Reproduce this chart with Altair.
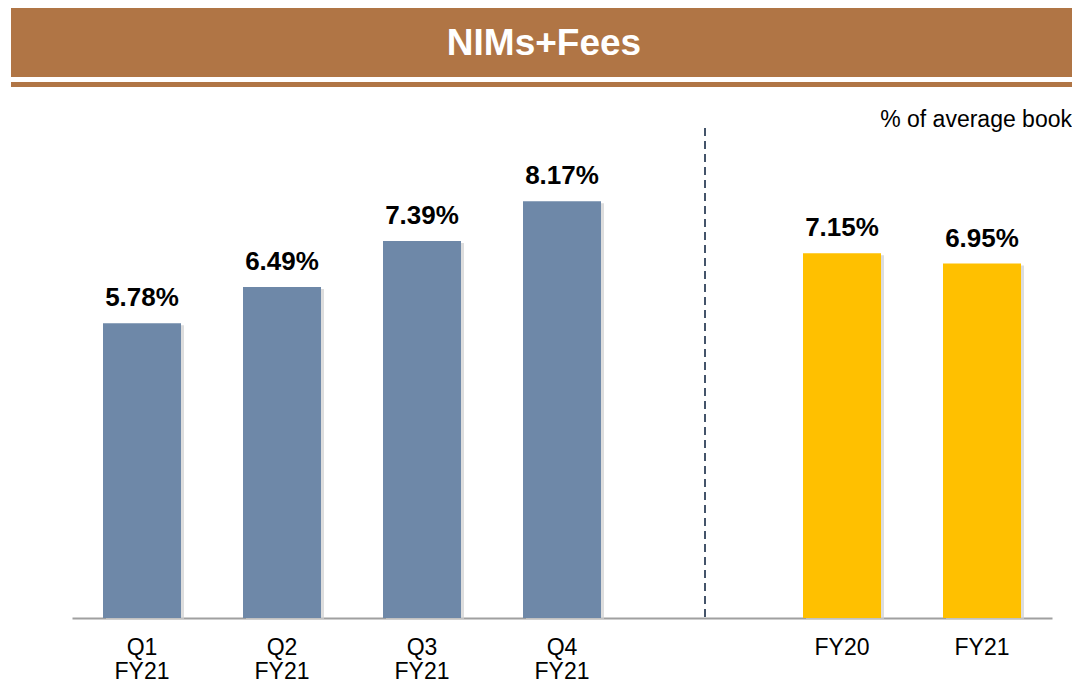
import altair as alt
import pandas as pd

categories = ["Q1 FY21", "Q2 FY21", "Q3 FY21", "Q4 FY21", "FY20", "FY21"]
values = [5.78, 6.49, 7.39, 8.17, 7.15, 6.95]
labels = ["5.78%", "6.49%", "7.39%", "8.17%", "7.15%", "6.95%"]
groups = ["quarter", "quarter", "quarter", "quarter", "year", "year"]
domain_order = ["Q1 FY21", "Q2 FY21", "Q3 FY21", "Q4 FY21", "gap", "FY20", "FY21"]

df = pd.DataFrame({"cat": categories, "value": values, "label": labels, "group": groups})

FONT = "Liberation Sans"
BROWN = "#B07545"

xenc = alt.X(
    "cat:N",
    scale=alt.Scale(domain=domain_order, paddingInner=0, paddingOuter=0),
    sort=domain_order,
    axis=alt.Axis(
        title=None,
        labelExpr="datum.label == 'gap' ? '' : split(datum.label, ' ')",
        labelAngle=0,
        labelFont=FONT,
        labelFontSize=23,
        labelColor="#000000",
        labelLineHeight=24,
        labelPadding=18,
        ticks=False,
        tickSize=0,
        domain=True,
        domainColor="#A0A0A0",
        domainWidth=2,
        grid=False,
        labelBaseline="top",
    ),
)
yenc = alt.Y("value:Q", scale=alt.Scale(domain=[0, 10]), axis=None)

base = alt.Chart(df)

shadow = base.mark_bar(size=78, xOffset=3, yOffset=2, color="#CFCFCF", opacity=0.7).encode(x=xenc, y=yenc)

bars = base.mark_bar(size=78).encode(
    x=xenc,
    y=yenc,
    color=alt.Color(
        "group:N",
        scale=alt.Scale(domain=["quarter", "year"], range=["#6E88A8", "#FFC000"]),
        legend=None,
    ),
)

vals = base.mark_text(
    font=FONT, fontSize=26, fontWeight="bold", color="#000000", baseline="alphabetic", dy=-17
).encode(x=xenc, y=yenc, text="label:N")

deco = pd.DataFrame({"k": [0]})
dbase = alt.Chart(deco)

banner = dbase.mark_rect(color=BROWN).encode(
    x=alt.value(-61), x2=alt.value(1010), y=alt.value(-102), y2=alt.value(-31)
)
bline = dbase.mark_rect(color=BROWN).encode(
    x=alt.value(-61), x2=alt.value(1010), y=alt.value(-26), y2=alt.value(-21)
)
title = dbase.mark_text(
    font=FONT, fontSize=37, fontWeight="bold", color="#FFFFFF", align="center", baseline="alphabetic"
).encode(x=alt.value(472), y=alt.value(-53), text=alt.value("NIMs+Fees"))

note = dbase.mark_text(
    font=FONT, fontSize=23, color="#000000", align="right", baseline="alphabetic"
).encode(x=alt.value(1000), y=alt.value(19), text=alt.value("% of average book"))

divider = dbase.mark_rule(color="#44546A", strokeWidth=2, strokeDash=[8, 5]).encode(
    x=alt.value(633), y=alt.value(20), y2=alt.value(510)
)

chart = alt.layer(banner, bline, title, note, divider, shadow, bars, vals).properties(
    width=980,
    height=510,
    padding={"left": 64, "top": 100, "right": 20, "bottom": 66},
    autosize=alt.AutoSizeParams(type="none"),
).configure(background="#FFFFFF").configure_view(strokeWidth=0, stroke="transparent")

chart.save("out.html", embed_options={"renderer": "svg", "actions": False})
